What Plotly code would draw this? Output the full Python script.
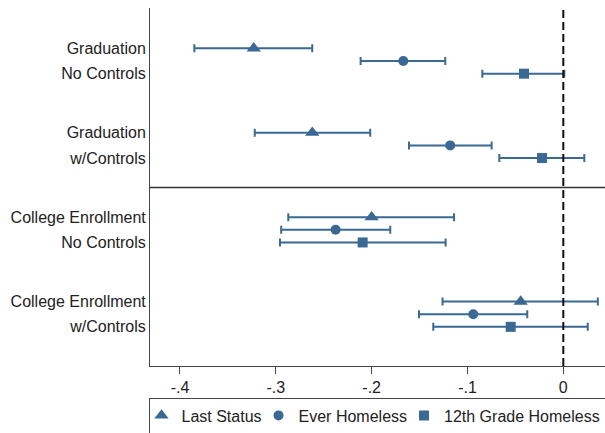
import plotly.graph_objects as go

# ---- data ----
label_top = ["Graduation", "Graduation", "College Enrollment", "College Enrollment"]
label_bottom = ["No Controls", "w/Controls", "No Controls", "w/Controls"]

series_names = ["Last Status", "Ever Homeless", "12th Grade Homeless"]
last_status_est = [-0.323, -0.262, -0.200, -0.0445]
last_status_lo = [-0.385, -0.322, -0.287, -0.126]
last_status_hi = [-0.262, -0.2015, -0.114, 0.036]

ever_homeless_est = [-0.167, -0.118, -0.2376, -0.094]
ever_homeless_lo = [-0.2115, -0.161, -0.2944, -0.1506]
ever_homeless_hi = [-0.1232, -0.0748, -0.1806, -0.0376]

grade12_est = [-0.041, -0.0222, -0.2094, -0.0549]
grade12_lo = [-0.0845, -0.0668, -0.2957, -0.1357]
grade12_hi = [0.001, 0.0219, -0.1228, 0.0255]

x_tick_vals = [-0.4, -0.3, -0.2, -0.1, 0]
x_tick_text = ["-.4", "-.3", "-.2", "-.1", "0"]

# ---- style ----
COLOR = "#3a6994"
FONT = "Arial, Liberation Sans, sans-serif"
offsets = [-0.15, 0.0, 0.15]
symbols = ["triangle-up", "circle", "square"]
sizes = [12.5, 10, 10]

series = [
    (last_status_est, last_status_lo, last_status_hi),
    (ever_homeless_est, ever_homeless_lo, ever_homeless_hi),
    (grade12_est, grade12_lo, grade12_hi),
]

fig = go.Figure()
for k, (name, (est, lo, hi)) in enumerate(zip(series_names, series)):
    ys = [i + offsets[k] for i in range(len(label_top))]
    fig.add_trace(go.Scatter(
        x=est, y=ys, mode="markers", name=name,
        marker=dict(symbol=symbols[k], size=sizes[k], color=COLOR),
        error_x=dict(type="data", symmetric=False,
                     array=[h - e for h, e in zip(hi, est)],
                     arrayminus=[e - l for e, l in zip(est, lo)],
                     color=COLOR, thickness=2, width=4),
    ))

# y tick labels: two lines per group aligned to top / bottom markers
ytickvals, yticktext = [], []
for i in range(len(label_top)):
    ytickvals += [i + offsets[0], i + offsets[2]]
    yticktext += [label_top[i], label_bottom[i]]

fig.add_vline(x=0, line=dict(color="#111111", width=2, dash="8px,4px"))
fig.add_shape(type="line", xref="paper", x0=0, x1=1, yref="y",
              y0=1.5, y1=1.5, line=dict(color="#333333", width=1.5))

fig.update_layout(
    width=605, height=433,
    margin=dict(l=150, r=0, t=8, b=67, autoexpand=False),
    paper_bgcolor="white", plot_bgcolor="white",
    font=dict(family=FONT, size=16, color="#222222"),
    showlegend=True,
    legend=dict(orientation="h", x=0.5, xanchor="center", y=-0.088, yanchor="top",
                bordercolor="#444444", borderwidth=1,
                font=dict(size=16, color="#222222"),
                itemwidth=30, tracegroupgap=0, indentation=-8),
    xaxis=dict(range=[-0.4313, 0.0435], tickvals=x_tick_vals, ticktext=x_tick_text,
               showgrid=False, zeroline=False, showline=True, linecolor="#444444",
               linewidth=1, ticks="outside", ticklen=7, tickcolor="#444444",
               tickfont=dict(size=16), automargin=False),
    yaxis=dict(range=[3.614, -0.628], tickvals=ytickvals, ticktext=yticktext,
               showgrid=False, zeroline=False, showline=True, linecolor="#444444",
               linewidth=1, ticks="", tickfont=dict(size=16), automargin=False),
)

fig.write_html("out.html",
               config={"displayModeBar": False},
               post_script="document.body.style.margin='0';document.body.style.padding='0';"
                           "document.body.style.overflow='hidden';")
